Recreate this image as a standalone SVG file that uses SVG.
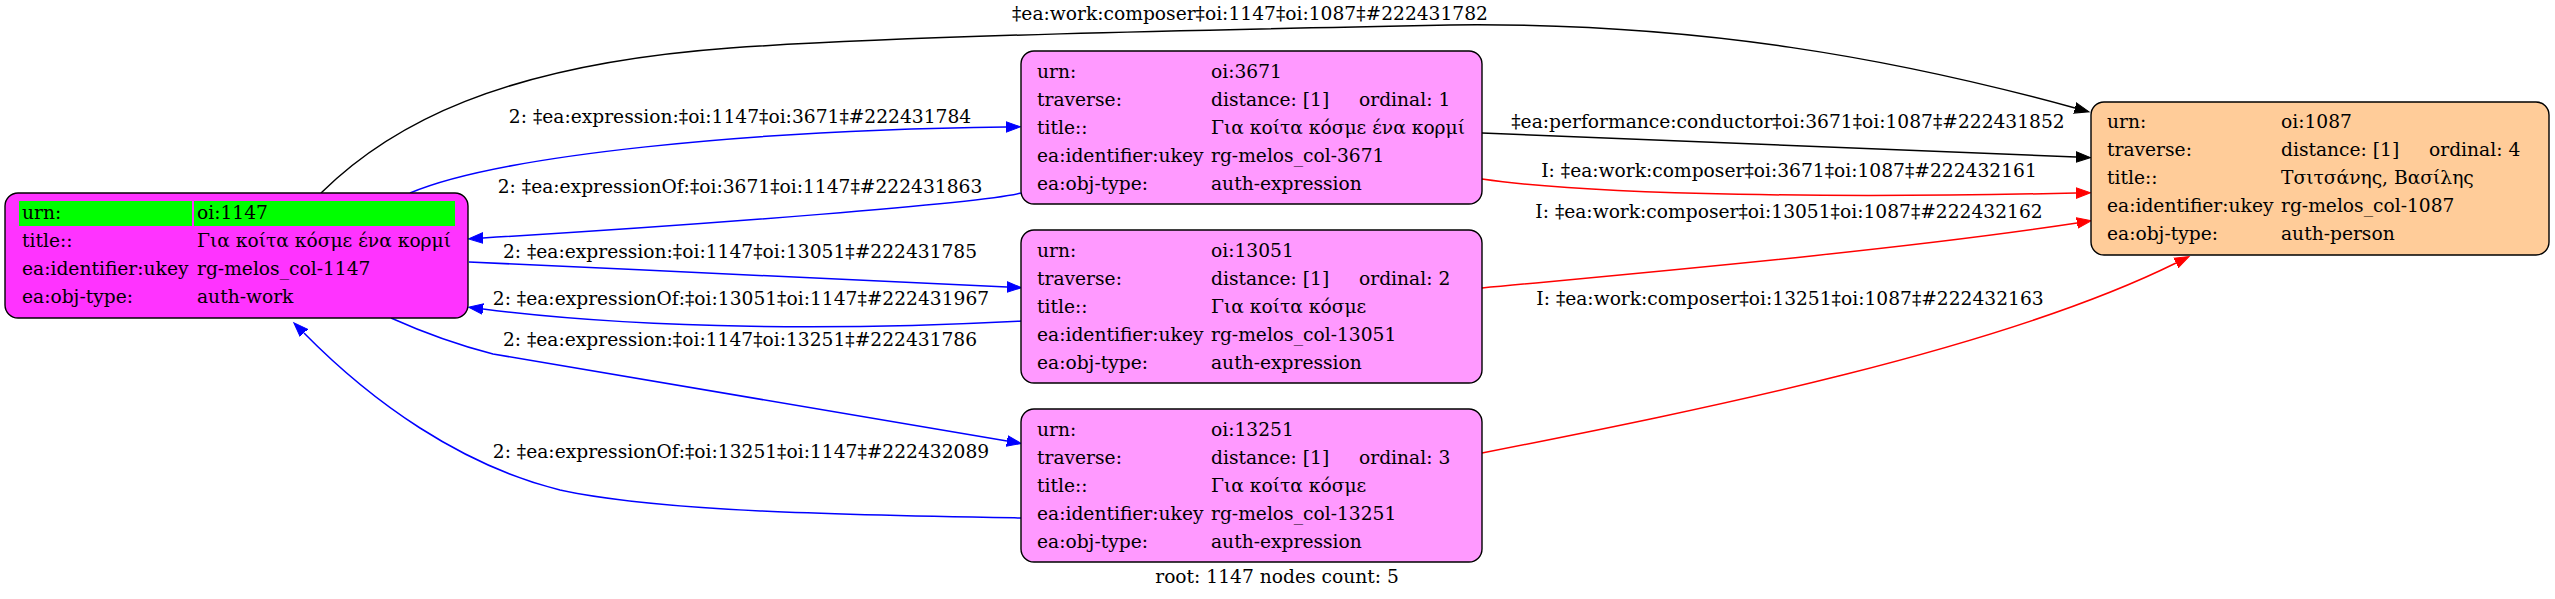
<svg xmlns="http://www.w3.org/2000/svg" width="2555" height="599" viewBox="0 0 2555 599">
<style>
text{font-family:"DejaVu Serif","Liberation Serif",serif;font-size:18.67px;fill:#000}
.lbl{text-anchor:middle}
.node{stroke:#000;stroke-width:1.4}
.work{fill:#ff33ff}
.expr{fill:#ff99ff}
.pers{fill:#ffcc99}
.e{fill:none;stroke-width:1.5}
.blk{stroke:#000}
.blu{stroke:#0000ff}
.red{stroke:#ff0000}
</style>
<defs>
<marker id="aBlk" markerUnits="userSpaceOnUse" markerWidth="18" markerHeight="14" viewBox="0 -7 18 14" refX="0" refY="0" orient="auto"><path d="M0,-5.3 L14.5,0 L0,5.3 Z" fill="#000" stroke="#000" stroke-width="1"/></marker>
<marker id="aBlu" markerUnits="userSpaceOnUse" markerWidth="18" markerHeight="14" viewBox="0 -7 18 14" refX="0" refY="0" orient="auto"><path d="M0,-5.3 L14.5,0 L0,5.3 Z" fill="#0000ff" stroke="#0000ff" stroke-width="1"/></marker>
<marker id="aRed" markerUnits="userSpaceOnUse" markerWidth="18" markerHeight="14" viewBox="0 -7 18 14" refX="0" refY="0" orient="auto"><path d="M0,-5.3 L14.5,0 L0,5.3 Z" fill="#ff0000" stroke="#ff0000" stroke-width="1"/></marker>
</defs>
<rect width="2555" height="599" fill="#fff"/>
<g id="connectors">
<path class="e blk" d="M321,193 C390,125 500,65 730,48 C900,36 1200,30 1450,25 C1700,22 1900,60 2075,108" marker-end="url(#aBlk)"/>
<text class="lbl" x="1250" y="20">‡ea:work:composer‡oi:1147‡oi:1087‡#222431782</text>
<path class="e blu" d="M410,193 C500,155 750,130 1006,127" marker-end="url(#aBlu)"/>
<text class="lbl" x="740" y="123">2: ‡ea:expression:‡oi:1147‡oi:3671‡#222431784</text>
<path class="e blu" d="M1021,193 C985,203 700,225 483,238" marker-end="url(#aBlu)"/>
<text class="lbl" x="740" y="193">2: ‡ea:expressionOf:‡oi:3671‡oi:1147‡#222431863</text>
<path class="e blu" d="M469,262 C650,270 850,280 1007,287" marker-end="url(#aBlu)"/>
<text class="lbl" x="740" y="258">2: ‡ea:expression:‡oi:1147‡oi:13051‡#222431785</text>
<path class="e blu" d="M1022,321 C850,330 650,330 483,309" marker-end="url(#aBlu)"/>
<text class="lbl" x="741" y="305">2: ‡ea:expressionOf:‡oi:13051‡oi:1147‡#222431967</text>
<path class="e blu" d="M391,318 C420,331 450,343 493,354 C665,383 837,412 1007,441" marker-end="url(#aBlu)"/>
<text class="lbl" x="740" y="346">2: ‡ea:expression:‡oi:1147‡oi:13251‡#222431786</text>
<path class="e blu" d="M1022,518 C850,515 660,512 560,490 C460,465 372,402 304,333" marker-end="url(#aBlu)"/>
<text class="lbl" x="741" y="458">2: ‡ea:expressionOf:‡oi:13251‡oi:1147‡#222432089</text>
<path class="e blk" d="M1482,133 C1700,140 1900,150 2076,157" marker-end="url(#aBlk)"/>
<text class="lbl" x="1788" y="128">‡ea:performance:conductor‡oi:3671‡oi:1087‡#222431852</text>
<path class="e red" d="M1482,179 C1600,196 1850,198 2076,193" marker-end="url(#aRed)"/>
<text class="lbl" x="1789" y="177">I: ‡ea:work:composer‡oi:3671‡oi:1087‡#222432161</text>
<path class="e red" d="M1482,288 C1650,272 1900,250 2077,223" marker-end="url(#aRed)"/>
<text class="lbl" x="1789" y="218">I: ‡ea:work:composer‡oi:13051‡oi:1087‡#222432162</text>
<path class="e red" d="M1482,453 C1700,410 2000,350 2176,263" marker-end="url(#aRed)"/>
<text class="lbl" x="1790" y="305">I: ‡ea:work:composer‡oi:13251‡oi:1087‡#222432163</text>
</g>
<g id="node-1147">
<rect class="node work" x="5" y="193" width="463" height="125" rx="13"/>
<rect x="19" y="201" width="173" height="25" fill="#00ff00"/>
<rect x="194" y="201" width="261" height="25" fill="#00ff00"/>
<text x="22" y="219">urn:</text><text x="197" y="219">oi:1147</text>
<text x="22" y="246.5">title::</text><text x="197" y="246.5">Για κοίτα κόσμε ένα κορμί</text>
<text x="22" y="274.5">ea:identifier:ukey</text><text x="197" y="274.5">rg-melos_col-1147</text>
<text x="22" y="302.5">ea:obj-type:</text><text x="197" y="302.5">auth-work</text>
</g>
<g id="node-3671">
<rect class="node expr" x="1021" y="51" width="461" height="153" rx="13"/>
<text x="1037" y="78">urn:</text><text x="1211" y="78">oi:3671</text>
<text x="1037" y="106">traverse:</text><text x="1211" y="106">distance: [1]</text><text x="1359" y="106">ordinal: 1</text>
<text x="1037" y="134">title::</text><text x="1211" y="134">Για κοίτα κόσμε ένα κορμί</text>
<text x="1037" y="162">ea:identifier:ukey</text><text x="1211" y="162">rg-melos_col-3671</text>
<text x="1037" y="190">ea:obj-type:</text><text x="1211" y="190">auth-expression</text>
</g>
<g id="node-13051">
<rect class="node expr" x="1021" y="230" width="461" height="153" rx="13"/>
<text x="1037" y="256.5">urn:</text><text x="1211" y="256.5">oi:13051</text>
<text x="1037" y="284.5">traverse:</text><text x="1211" y="284.5">distance: [1]</text><text x="1359" y="284.5">ordinal: 2</text>
<text x="1037" y="312.5">title::</text><text x="1211" y="312.5">Για κοίτα κόσμε</text>
<text x="1037" y="340.5">ea:identifier:ukey</text><text x="1211" y="340.5">rg-melos_col-13051</text>
<text x="1037" y="368.5">ea:obj-type:</text><text x="1211" y="368.5">auth-expression</text>
</g>
<g id="node-13251">
<rect class="node expr" x="1021" y="409" width="461" height="153" rx="13"/>
<text x="1037" y="435.5">urn:</text><text x="1211" y="435.5">oi:13251</text>
<text x="1037" y="463.5">traverse:</text><text x="1211" y="463.5">distance: [1]</text><text x="1359" y="463.5">ordinal: 3</text>
<text x="1037" y="491.5">title::</text><text x="1211" y="491.5">Για κοίτα κόσμε</text>
<text x="1037" y="519.5">ea:identifier:ukey</text><text x="1211" y="519.5">rg-melos_col-13251</text>
<text x="1037" y="547.5">ea:obj-type:</text><text x="1211" y="547.5">auth-expression</text>
</g>
<g id="node-1087">
<rect class="node pers" x="2091" y="102" width="458" height="153" rx="13"/>
<text x="2107" y="128">urn:</text><text x="2281" y="128">oi:1087</text>
<text x="2107" y="156">traverse:</text><text x="2281" y="156">distance: [1]</text><text x="2429" y="156">ordinal: 4</text>
<text x="2107" y="184">title::</text><text x="2281" y="184">Τσιτσάνης, Βασίλης</text>
<text x="2107" y="212">ea:identifier:ukey</text><text x="2281" y="212">rg-melos_col-1087</text>
<text x="2107" y="240">ea:obj-type:</text><text x="2281" y="240">auth-person</text>
</g>
<text class="lbl" x="1277" y="583">root: 1147 nodes count: 5</text>
</svg>
